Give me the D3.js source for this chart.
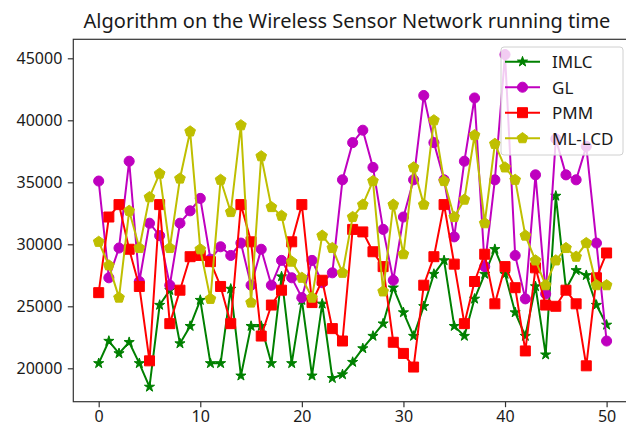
<!DOCTYPE html>
<html>
    <head>
        <meta charset="utf-8">
        <title> Algorithm on the Wireless Sensor Network running time </title>
        <script src="https://d3js.org/d3.v7.min.js"></script>
        <style>
            body { margin: 0; background: white; }
            text { font-family: "Noto Sans", "DejaVu Sans", sans-serif; fill: #1a1a1a; }
        </style>
    </head>

    <body>

        <div id="LineGraph"></div>

        <script type="text/javascript">

            // values, x = 0..50
            var xValues = d3.range(0, 51);
            var imlc = [20400, 22200, 21200, 22100, 20400, 18500, 25100, 26300, 22000, 23400,
                        25500, 20400, 20400, 26400, 19400, 23400, 23400, 20400, 27400, 20400,
                        25500, 19400, 25200, 19200, 19500, 20500, 21600, 22600, 23600, 26500,
                        24500, 22600, 25000, 27600, 28700, 23400, 22600, 25600, 27600, 29600,
                        27600, 24500, 22600, 26600, 21100, 33900, 26400, 27900, 27500, 25100,
                        23500];
            var gl = [35100, 27300, 29700, 36700, 27000, 31700, 30700, 26700, 31700, 32700,
                      33700, 28800, 29800, 29100, 30100, 26700, 29600, 26700, 28700, 27300,
                      25700, 28700, 26900, 27700, 35200, 38200, 39200, 36200, 31200, 27100,
                      32200, 35200, 42000, 38200, 35200, 30600, 36700, 41800, 28200, 35200,
                      45300, 29100, 25600, 35600, 26000, 38500, 35600, 35200, 37900, 30100,
                      22200];
            var pmm = [26100, 32200, 33200, 29600, 26600, 20600, 33200, 23600, 26300, 29000,
                       29100, 28600, 26600, 23600, 33200, 30200, 22600, 25100, 26300, 30200,
                       33200, 25300, 27100, 23200, 22200, 31200, 31000, 29400, 28200, 22100,
                       21200, 20100, 26700, 29000, 33200, 28400, 23600, 27000, 29200, 25200,
                       28200, 26500, 21400, 28100, 25100, 25000, 26300, 25200, 20200, 27300,
                       29300];
            var mlcd = [30200, 28300, 25700, 32700, 29700, 33800, 35700, 29700, 35300, 39100,
                        29600, 25600, 35200, 32600, 39600, 25300, 37100, 33000, 32300, 28600,
                        27300, 25700, 30700, 29700, 27700, 32200, 33200, 35100, 26200, 33200,
                        29200, 36200, 33200, 40000, 35100, 32200, 33600, 38800, 31700, 38100,
                        36200, 35200, 30700, 28700, 26700, 28700, 29700, 29000, 30100, 26700,
                        26700];
            var seriesNames = ["IMLC", "GL", "PMM", "ML-LCD"];
            var xTicks = [0, 10, 20, 30, 40, 50];
            var yTicks = [20000, 25000, 30000, 35000, 40000, 45000];
            var titleText = "Algorithm on the Wireless Sensor Network running time";

            var margin = {top: 39.3, right: -6, bottom: 25.3, left: 73.3},
            width = 626 - margin.left - margin.right,
            height = 427 - margin.top - margin.bottom;

            var svg = d3.select("#LineGraph")
            .append("svg")
            .attr("width", 626)
            .attr("height", 427)
            .append("g")
            .attr("transform", "translate(" + margin.left + "," + margin.top + ")");

            var x = d3.scaleLinear()
            .domain([-2.5, 52.5])
            .range([0, width]);

            var y = d3.scaleLinear()
            .domain([17306, 46532])
            .range([height, 0]);

            // pentagon marker, matplotlib "p"
            var symbolPentagon = {
                draw: function(context, size) {
                    var r = Math.sqrt(size / 2.3776);
                    for (var k = 0; k < 5; k++) {
                        var a = -Math.PI / 2 + k * 2 * Math.PI / 5;
                        if (k === 0) context.moveTo(r * Math.cos(a), r * Math.sin(a));
                        else context.lineTo(r * Math.cos(a), r * Math.sin(a));
                    }
                    context.closePath();
                }
            };

            var series = [
                {name: seriesNames[0], values: imlc, color: "#008000", symbol: d3.symbolStar, size: 32},
                {name: seriesNames[1], values: gl, color: "#bf00bf", symbol: d3.symbolCircle, size: 80},
                {name: seriesNames[2], values: pmm, color: "#ff0000", symbol: d3.symbolSquare, size: 100},
                {name: seriesNames[3], values: mlcd, color: "#bfbf00", symbol: symbolPentagon, size: 75}
            ];

            svg.append("clipPath").attr("id", "plotClip")
            .append("rect").attr("x", 0).attr("y", 0).attr("width", width).attr("height", height);

            var line = d3.line()
            .x(function(d, i) { return x(xValues[i]) })
            .y(function(d) { return y(d) });

            var plot = svg.append("g").attr("clip-path", "url(#plotClip)");

            series.forEach(function(s) {
                plot.append("path")
                .datum(s.values)
                .attr("fill", "none")
                .attr("stroke", s.color)
                .attr("stroke-width", 2)
                .attr("stroke-linejoin", "round")
                .attr("d", line);

                plot.selectAll(null)
                .data(s.values)
                .enter()
                .append("path")
                .attr("transform", function(d, i) { return "translate(" + x(xValues[i]) + "," + y(d) + ")" })
                .attr("d", d3.symbol().type(s.symbol).size(s.size))
                .attr("fill", s.color)
                .attr("stroke", s.color)
                .attr("stroke-width", 1);
            });

            // axes
            var xAxis = svg.append("g")
            .attr("transform", "translate(0," + height + ")")
            .call(d3.axisBottom(x).tickValues(xTicks).tickSize(5.5).tickPadding(3).tickFormat(d3.format("d")));

            var yAxis = svg.append("g")
            .call(d3.axisLeft(y).tickValues(yTicks).tickSize(5.5).tickPadding(5.5).tickFormat(d3.format("d")));

            [xAxis, yAxis].forEach(function(a) {
                a.select(".domain").remove();
                a.selectAll("line").attr("stroke", "#333").attr("stroke-width", 1.2);
                a.selectAll("text").style("font-size", "16px").style("font-family", "Noto Sans").attr("fill", "#1a1a1a");
            });

            // frame
            svg.append("rect")
            .attr("x", 0).attr("y", 0)
            .attr("width", width).attr("height", height)
            .attr("fill", "none")
            .attr("stroke", "#333")
            .attr("stroke-width", 1.2);

            svg.append("text")
            .attr("x", 347 - margin.left)
            .attr("y", 28 - margin.top)
            .attr("text-anchor", "middle")
            .style("font-size", "20px")
            .text(titleText);

            // legend
            var legend = svg.append("g").attr("transform", "translate(" + (501 - margin.left) + "," + (47 - margin.top) + ")");
            legend.append("rect")
            .attr("width", 122).attr("height", 108).attr("rx", 3)
            .attr("fill", "white").attr("fill-opacity", 0.8)
            .attr("stroke", "#d0d0d0").attr("stroke-width", 1);

            series.forEach(function(s, i) {
                var ly = 14.7 + i * 25.5;
                legend.append("line")
                .attr("x1", 4).attr("x2", 39).attr("y1", ly).attr("y2", ly)
                .attr("stroke", s.color).attr("stroke-width", 2);
                legend.append("path")
                .attr("transform", "translate(21.5," + ly + ")")
                .attr("d", d3.symbol().type(s.symbol).size(s.size))
                .attr("fill", s.color).attr("stroke", s.color);
                legend.append("text")
                .attr("x", 51).attr("y", ly)
                .attr("dominant-baseline", "central")
                .style("font-size", "17px")
                .text(s.name);
            });

        </script>
    </body>
</html>
